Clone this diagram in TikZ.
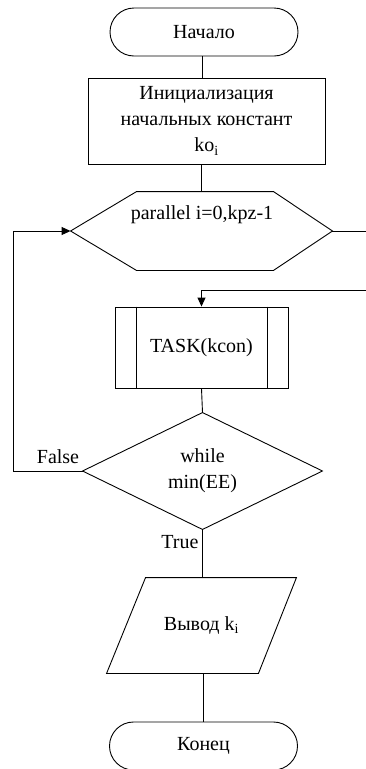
\documentclass[tikz,border=0pt]{standalone}
\usepackage{fontspec}
\setmainfont{Liberation Serif}
\usetikzlibrary{shapes.misc,arrows.meta}
\begin{document}
\begin{tikzpicture}[x=1pt,y=-1pt,
  every node/.style={font=\fontsize{20}{26}\selectfont, inner sep=0pt, align=center},
  term/.style={draw, rounded rectangle, minimum width=188pt, minimum height=48pt},
  box/.style={draw, rectangle, minimum width=237pt, minimum height=86pt},
  ghost/.style={draw=none, rectangle},
  ln/.style={line width=0.9pt},
  arr/.style={line width=0.9pt, -{Triangle[length=9pt,width=8pt]}}
]
\useasboundingbox (0,0) rectangle (366,769);
\begin{scope}[ln]
\node[term] (start) at (204,32) {Начало};
\node[box] (init) at (206.5,121) {Инициализация\\начальных констант\\ko\textsubscript{i}};
\node[ghost, minimum width=261pt, minimum height=78pt] (hex) at (201.5,231) {};
\draw (hex.west) -- ([xshift=66pt]hex.north west) -- ([xshift=-59pt]hex.north east) -- (hex.east) -- ([xshift=-59pt]hex.south east) -- ([xshift=66pt]hex.south west) -- cycle;
\node (hext) at (202,215) {parallel i=0,kpz-1};
\node[draw, rectangle, minimum width=173pt, minimum height=81pt] (task) at (201.5,347.5) {TASK(kcon)};
\draw ([xshift=22pt]task.north west) -- ([xshift=22pt]task.south west);
\draw ([xshift=-21pt]task.north east) -- ([xshift=-21pt]task.south east);
\node[ghost, minimum width=239pt, minimum height=116pt] (dia) at (202.5,471) {while\\min(EE)};
\draw (dia.north) -- (dia.east) -- (dia.south) -- (dia.west) -- cycle;
\node[ghost, minimum width=189pt, minimum height=95pt] (par) at (201.5,625.5) {Вывод k\textsubscript{i}};
\draw ([xshift=39pt]par.north west) -- (par.north east) -- ([xshift=-38pt]par.south east) -- (par.south west) -- cycle;
\node[term] (end) at (203.5,746) {Конец};
\end{scope}
\coordinate (r1) at (366,231);
\coordinate (r2) at (366,290);
\coordinate (l1) at (13,471);
\draw[ln] ([xshift=-2pt]start.south) -- ([xshift=-2pt]start.south |- init.north);
\draw[ln] (init.south -| hex.north) -- (hex.north);
\draw[ln] (hex.east) -- (r1);
\draw[arr] (r2) -| (task.north);
\draw[ln] (task.south) -- (dia.north);
\draw[arr] (dia.west) -- (l1) |- (hex.west);
\node (false) at (58,457) {False};
\draw[ln] (dia.south) -- (par.north -| dia.south);
\node (true) at (180,542) {True};
\draw[ln] (par.south -| end.north) -- (end.north);
\end{tikzpicture}
\end{document}
